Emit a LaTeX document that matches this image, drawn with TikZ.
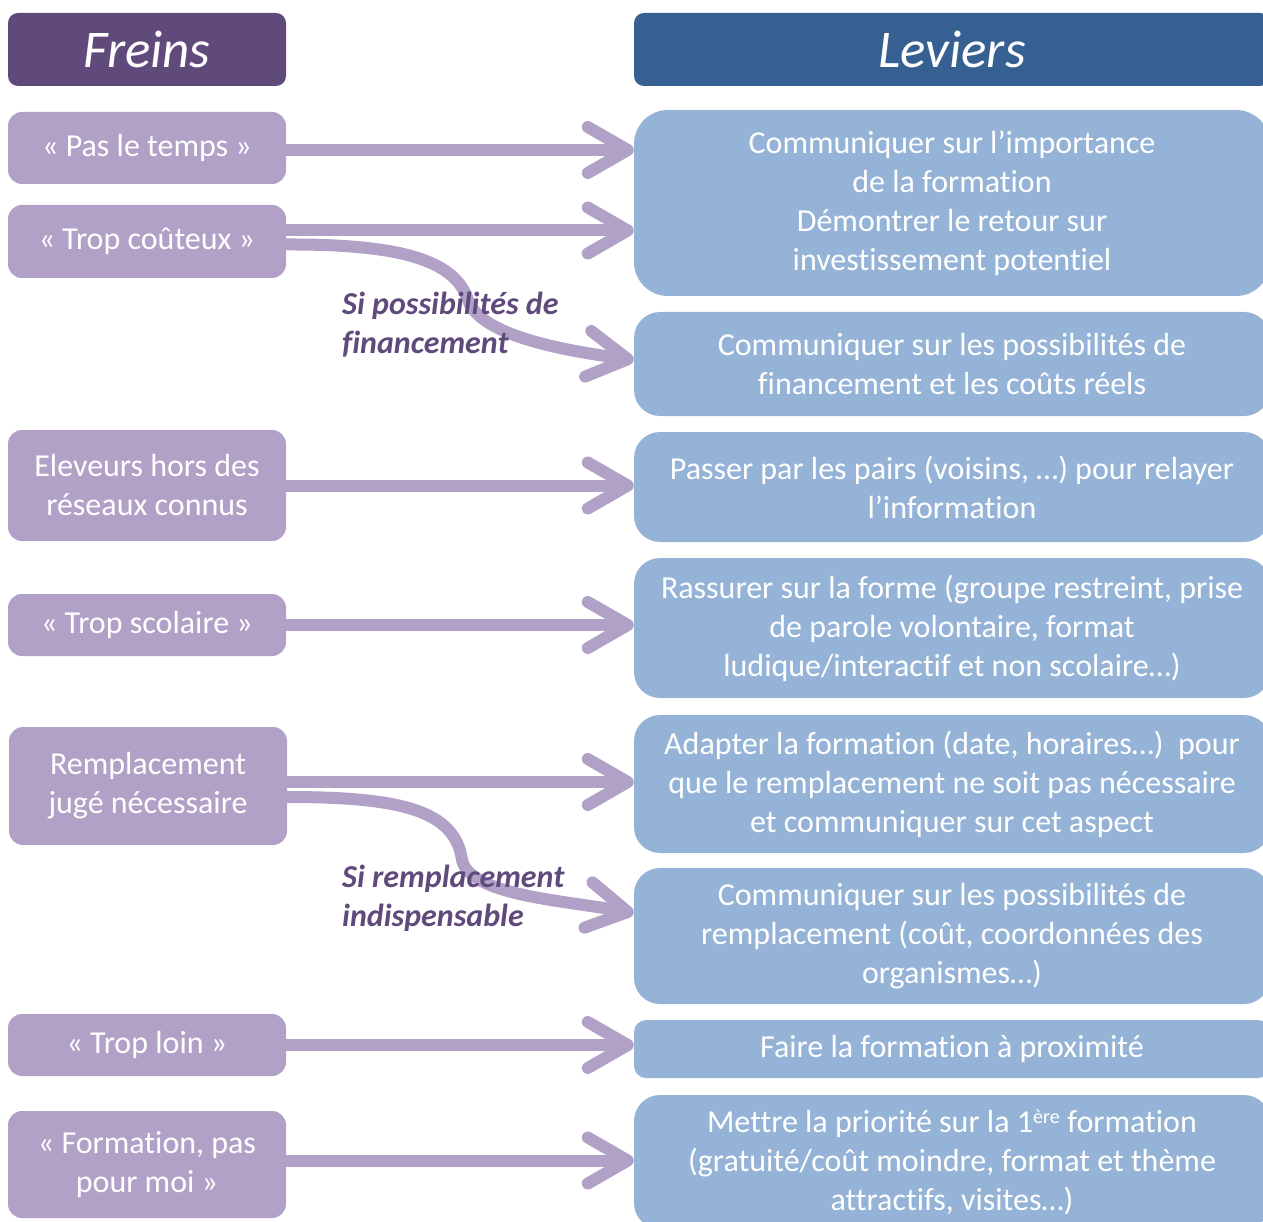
\documentclass[tikz,border=0pt]{standalone}
\usepackage{fontspec}
\setmainfont{Carlito}[Ligatures=NoCommon]
\usetikzlibrary{arrows.meta}
\definecolor{FreinsHead}{RGB}{96,74,123}
\definecolor{Frein}{RGB}{178,161,199}
\definecolor{LeviersHead}{RGB}{54,96,146}
\definecolor{Levier}{RGB}{149,179,215}

\begin{document}
\begin{tikzpicture}[x=1pt, y=-1pt]
			\tikzstyle{every node}=[shape=rectangle, align=center, text=white, inner sep=0pt, font=\fontsize{32}{39}\selectfont];
			\tikzstyle{entete}=[rounded corners=10pt, minimum height=73pt, font=\fontsize{53}{60}\selectfont\itshape];
			\tikzstyle{frein}=[fill=Frein, rounded corners=14pt, minimum width=278pt];
			\tikzstyle{levier}=[fill=Levier, rounded corners=26pt, minimum width=636pt];
			\tikzstyle{fleche}=[draw=Frein, line width=12pt, -{Straight Barb[length=40pt, width=46pt, round]}];
			\tikzstyle{condition}=[text=FreinsHead, align=left, anchor=west, font=\fontsize{32}{39}\selectfont\bfseries\itshape];
			\useasboundingbox (0,0) rectangle (1263,1222);
			\node [entete, fill=FreinsHead, minimum width=278pt] (freins) at (147, 49.5) {Freins};
			\node [entete, fill=LeviersHead, minimum width=636pt] (leviers) at (952, 49.5) {Leviers};
			\node [frein, minimum height=72pt] (f1) at (147, 148) {« Pas le temps »};
			\node [frein, minimum height=73pt] (f2) at (147, 241.5) {« Trop coûteux »};
			\node [frein, minimum height=111pt] (f3) at (147, 485.5) {Eleveurs hors des\\réseaux connus};
			\node [frein, minimum height=62pt] (f4) at (147, 625) {« Trop scolaire »};
			\node [frein, minimum height=118pt] (f5) at (148, 786) {Remplacement\\jugé nécessaire};
			\node [frein, minimum height=62pt] (f6) at (147, 1045) {« Trop loin »};
			\node [frein, minimum height=107pt] (f7) at (147, 1164.5) {« Formation, pas\\pour moi »};
			\node [levier, minimum height=186pt, rounded corners=34pt] (l1) at (952, 203) {Communiquer sur l’importance\\de la formation\\Démontrer le retour sur\\investissement potentiel};
			\node [levier, minimum height=104pt] (l2) at (952, 364) {Communiquer sur les possibilités de\\financement et les coûts réels};
			\node [levier, minimum height=110pt] (l3) at (952, 487) {Passer par les pairs (voisins, …) pour relayer\\l’information};
			\node [levier, minimum height=140pt] (l4) at (952, 628) {Rassurer sur la forme (groupe restreint, prise\\de parole volontaire, format\\ludique/interactif et non scolaire…)};
			\node [levier, minimum height=138pt] (l5) at (952, 784) {Adapter la formation (date, horaires…)~ pour\\que le remplacement ne soit pas nécessaire\\et communiquer sur cet aspect};
			\node [levier, minimum height=136pt] (l6) at (952, 936) {Communiquer sur les possibilités de\\remplacement (coût, coordonnées des\\organismes…)};
			\node [levier, minimum height=58pt, rounded corners=12pt] (l7) at (952, 1049) {Faire la formation à proximité};
			\node [levier, minimum height=134pt] (l8) at (952, 1162) {Mettre la priorité sur la 1\textsuperscript{\fontsize{20}{20}\selectfont ère} formation\\(gratuité/coût moindre, format et thème\\attractifs, visites…)};
			\draw [fleche] ([yshift=-2pt]f1.east) -- ([yshift=-2pt]f1.east -| l1.west);
			\draw [fleche] ([yshift=11pt]f2.east) -- ([yshift=11pt]f2.east -| l1.west);
			\draw [fleche] ([yshift=-3pt]f2.east) .. controls (400, 244) and (455, 260) .. (468, 300) .. controls (480, 335) and (560, 350) .. ([yshift=4pt]l2.west);
			\draw [fleche] (f3.east) -- (f3.east -| l3.west);
			\draw [fleche] (f4.east) -- (f4.east -| l4.west);
			\draw [fleche] ([yshift=4pt]f5.east) -- ([yshift=4pt]f5.east -| l5.west);
			\draw [fleche] ([yshift=-11pt]f5.east) .. controls (400, 797) and (455, 810) .. (462, 860) .. controls (470, 895) and (560, 900) .. ([yshift=23pt]l6.west);
			\draw [fleche] (f6.east) -- (f6.east -| l7.west);
			\draw [fleche] ([yshift=4pt]f7.east) -- ([yshift=4pt]f7.east -| l8.west);
			\node [condition] (c1) at (342, 324.5) {Si possibilités de\\financement};
			\node [condition] (c2) at (342, 898) {Si remplacement\\indispensable};
		\end{tikzpicture}
\end{document}
